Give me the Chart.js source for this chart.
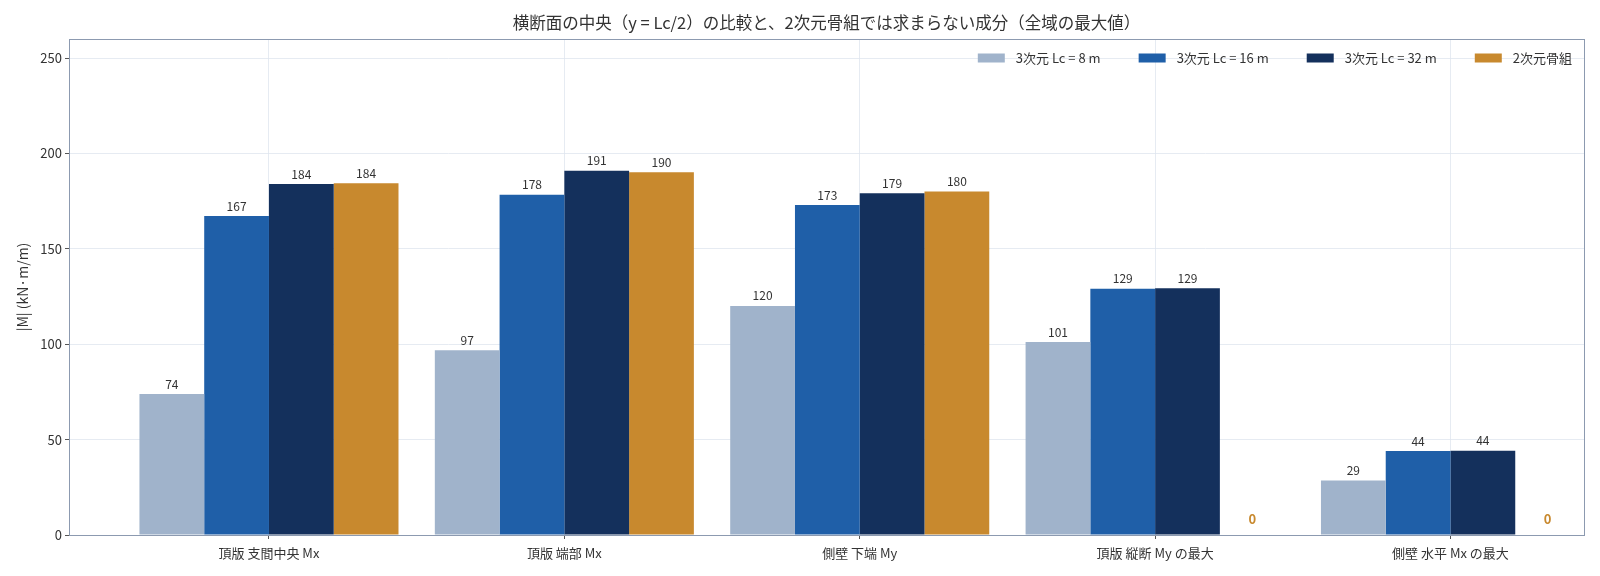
<!DOCTYPE html>
<html>
<head>
<meta charset="utf-8">
<script src="https://cdn.jsdelivr.net/npm/chart.js@4.4.1/dist/chart.umd.min.js"></script>
<style>
body{margin:0;background:#fff}
#wrap{width:1600px;height:576px}
</style>
</head>
<body>
<div id="wrap"><canvas id="myChart"></canvas></div>
<script>

const categories = ["頂版 支間中央 Mx", "頂版 端部 Mx", "側壁 下端 My", "頂版 縦断 My の最大", "側壁 水平 Mx の最大"]
const lc8 = [73.9, 96.8, 120.1, 101.2, 28.6]
const lc16 = [167.2, 178.3, 173.0, 129.1, 44.0]
const lc32 = [184.0, 191.0, 179.2, 129.3, 44.2]
const frame2d = [184.4, 190.2, 180.1, 0, 0]
const seriesNames = ["3次元 Lc = 8 m", "3次元 Lc = 16 m", "3次元 Lc = 32 m", "2次元骨組"]
const colors = ["#a0b3cb", "#1f5fa8", "#14305c", "#c8892e"]
const yTicks = [0, 50, 100, 150, 200, 250]

const FONT = "'Noto Sans CJK JP', 'Noto Sans', sans-serif"
const gridColor = "rgba(222,228,238,0.75)"

let toPoints = function(arr){
	return arr.map((v, i) => ({x: i, y: v}))
}

const allSeries = [lc8, lc16, lc32, frame2d]

// value labels above the bars
const valueLabels = {
	id: "valueLabels",
	afterDraw(chart){
		const ctx = chart.ctx
		const yScale = chart.scales.y
		ctx.save()
		ctx.textAlign = "center"
		ctx.textBaseline = "middle"
		chart.data.datasets.forEach((ds, di) => {
			const meta = chart.getDatasetMeta(di)
			meta.data.forEach((bar, i) => {
				const v = ds.data[i].y
				if (v === 0) {
					ctx.font = "bold 13px " + FONT
					ctx.fillStyle = colors[3]
					ctx.fillText("0", bar.x, yScale.getPixelForValue(0) - 15.5)
				} else {
					ctx.font = "12px " + FONT
					ctx.fillStyle = "#333"
					ctx.fillText(Math.round(v).toString(), bar.x, bar.y - 10)
				}
			})
		})
		ctx.restore()
	}
}

// box around the plot + legend in the upper right corner
const frame = {
	id: "frame",
	afterDraw(chart){
		const a = chart.chartArea
		const ctx = chart.ctx
		ctx.save()
		ctx.strokeStyle = "#8c9ab0"
		ctx.lineWidth = 1
		ctx.strokeRect(Math.round(a.left) + 0.5, Math.round(a.top) + 0.5, Math.round(a.right - a.left), Math.round(a.bottom - a.top))

		ctx.font = "13px " + FONT
		ctx.textBaseline = "middle"
		ctx.textAlign = "left"
		let x = a.right - 12
		const cy = a.top + 19
		for (let k = seriesNames.length - 1; k >= 0; k--) {
			const w = ctx.measureText(seriesNames[k]).width
			const tx = x - w
			ctx.fillStyle = "#333"
			ctx.fillText(seriesNames[k], tx, cy)
			ctx.fillStyle = colors[k]
			ctx.fillRect(tx - 11 - 27, cy - 4.5, 27, 9)
			x = tx - 11 - 27 - 38
		}
		ctx.restore()
	}
}

const ctx = document.getElementById("myChart")

new Chart(ctx, {
	type: "bar",
	data: {
		datasets: allSeries.map((arr, k) => ({
			label: seriesNames[k],
			data: toPoints(arr),
			backgroundColor: colors[k],
			borderWidth: 0,
			categoryPercentage: 0.877,
			barPercentage: 1.0
		}))
	},
	options: {
		responsive: true,
		maintainAspectRatio: false,
		animation: false,
		layout: {padding: {left: 10, right: 16, top: 0, bottom: 0}},
		plugins: {
			title: {
				display: true,
				fullSize: false,
				text: "横断面の中央（y = Lc/2）の比較と、2次元骨組では求まらない成分（全域の最大値）",
				color: "#333",
				font: {family: FONT, size: 16.5, weight: "normal"},
				padding: {top: 12.5, bottom: 6.7}
			},
			legend: {display: false},
			tooltip: {enabled: false}
		},
		scales: {
			x: {
				type: "linear",
				min: -0.677,
				max: 4.452,
				offset: false,
				z: 1,
				afterBuildTicks: s => { s.ticks = categories.map((c, i) => ({value: i})) },
				afterFit: s => { s.height = 41 },
				grid: {offset: false, color: gridColor, tickColor: "#555", tickLength: 4},
				border: {color: "#8c9ab0"},
				ticks: {
					color: "#333",
					font: {family: FONT, size: 13},
					padding: 6,
					maxRotation: 0,
					autoSkip: false,
					callback: v => categories[v]
				}
			},
			y: {
				min: 0,
				max: 260,
				z: 1,
				afterBuildTicks: s => { s.ticks = yTicks.map(v => ({value: v})) },
				afterFit: s => { s.width = 59 },
				grid: {color: gridColor, tickColor: "#555", tickLength: 4},
				border: {color: "#8c9ab0"},
				ticks: {
					color: "#333",
					font: {family: FONT, size: 13},
					padding: 3
				},
				title: {
					display: true,
					text: "|M| (kN·m/m)",
					color: "#333",
					font: {family: FONT, size: 14}
				}
			}
		}
	},
	plugins: [valueLabels, frame]
})

</script>
</body>
</html>
